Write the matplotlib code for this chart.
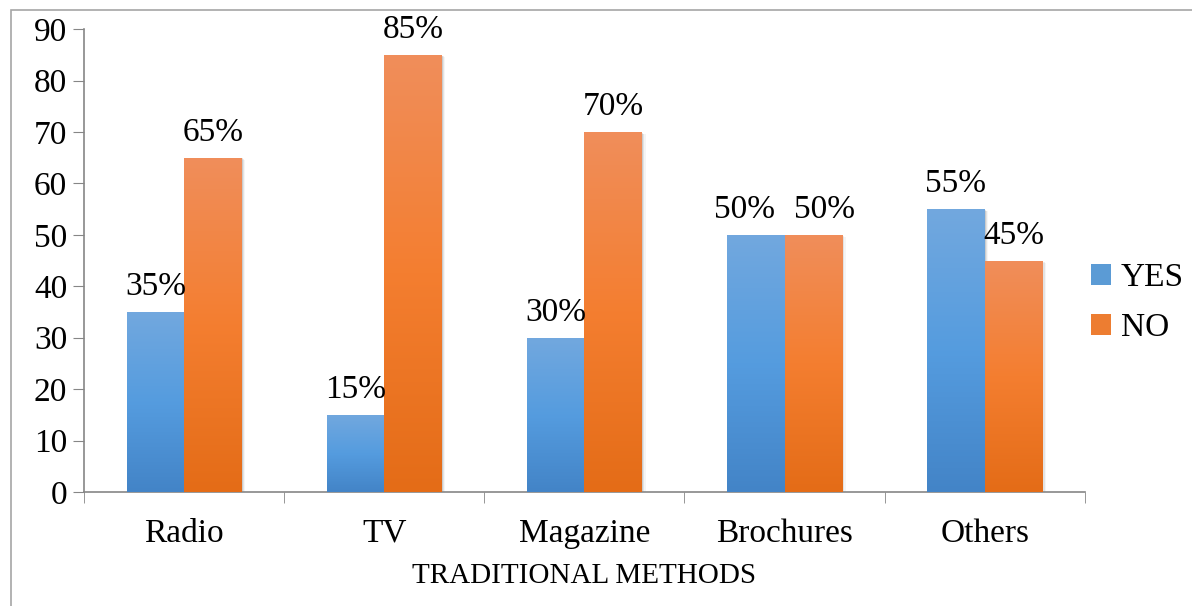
import matplotlib.pyplot as plt
import numpy as np
from matplotlib.colors import LinearSegmentedColormap
from matplotlib.patches import Rectangle, Patch

categories = ["Radio", "TV", "Magazine", "Brochures", "Others"]
yes_vals = [35, 15, 30, 50, 55]
no_vals = [65, 85, 70, 50, 45]
series_names = ["YES", "NO"]

plt.rcParams['font.family'] = ['Liberation Serif', 'DejaVu Serif']

blue_cmap = LinearSegmentedColormap.from_list("blue_grad", ["#4384c7", "#559cdf", "#72a8de"])
orange_cmap = LinearSegmentedColormap.from_list("orange_grad", ["#e46c17", "#f47e30", "#f08e5b"])

fig = plt.figure(figsize=(11.92, 6.06), dpi=100)
ax = fig.add_axes([0.0705, 0.188, 0.8395, 0.764])

# outer frame of the chart area
fig.patches.append(Rectangle((11 / 1192, -0.05), 1.1, 1.05 - 10 / 606,
                             transform=fig.transFigure, fill=False,
                             edgecolor="#a6a6a6", linewidth=1.2))

x = np.arange(len(categories))
width = 0.2875
grad = np.linspace(0, 1, 256).reshape(-1, 1)


def gradient_bars(xs, vals, cmap):
    bars = ax.bar(xs, vals, width, color="none", edgecolor="none", zorder=3)
    for b in bars:
        x0, y0 = b.get_x(), b.get_y()
        w, h = b.get_width(), b.get_height()
        # soft shadow behind the bar
        for k, a in enumerate([0.10, 0.07, 0.04]):
            off = 0.006 * (k + 1)
            ax.add_patch(Rectangle((x0 + off, y0), w, h - 0.15 * (k + 1),
                                   facecolor="black", alpha=a, edgecolor="none", zorder=2))
        im = ax.imshow(grad, cmap=cmap, aspect="auto", origin="lower",
                       extent=(x0, x0 + w, y0, y0 + h), zorder=3)
        im.set_clip_path(b)
    return bars


gradient_bars(x - width / 2, yes_vals, blue_cmap)
gradient_bars(x + width / 2, no_vals, orange_cmap)

# equal neighbouring labels get pushed apart so they don't collide
for sign, xs, vals, other in [(-1, x - width / 2, yes_vals, no_vals),
                              (1, x + width / 2, no_vals, yes_vals)]:
    for xi, v, o in zip(xs, vals, other):
        dx = 8 * sign if v == o else 0
        ax.annotate(f"{v}%", (xi, v), xytext=(dx, 7), textcoords="offset points",
                    ha="center", va="bottom", fontsize=24)

ax.set_xlim(-0.5, len(categories) - 0.5)
ax.set_ylim(0, 90)
ax.set_yticks(range(0, 91, 10))
ax.set_xticks(x)
ax.set_xticklabels(categories)
ax.set_xticks(np.arange(len(categories) + 1) - 0.5, minor=True)
ax.tick_params(axis="x", which="major", length=0, pad=19, labelsize=24)
ax.tick_params(axis="x", which="minor", length=8, color="#868686", direction="out")
ax.tick_params(axis="y", length=8, color="#868686", labelsize=24, pad=4)
ax.set_xlabel("TRADITIONAL METHODS", fontsize=21, labelpad=10)

for side in ["top", "right"]:
    ax.spines[side].set_visible(False)
for side in ["left", "bottom"]:
    ax.spines[side].set_color("#868686")
    ax.spines[side].set_linewidth(1.2)

handles = [Patch(facecolor="#5b9bd5", edgecolor="none"),
           Patch(facecolor="#ed7d31", edgecolor="none")]
fig.legend(handles, series_names, loc="center left", bbox_to_anchor=(0.915, 0.5),
           frameon=False, fontsize=24, handlelength=0.6, handleheight=0.6,
           handletextpad=0.3, labelspacing=0.6, borderpad=0, borderaxespad=0)

fig.savefig("out.png", dpi=100)
